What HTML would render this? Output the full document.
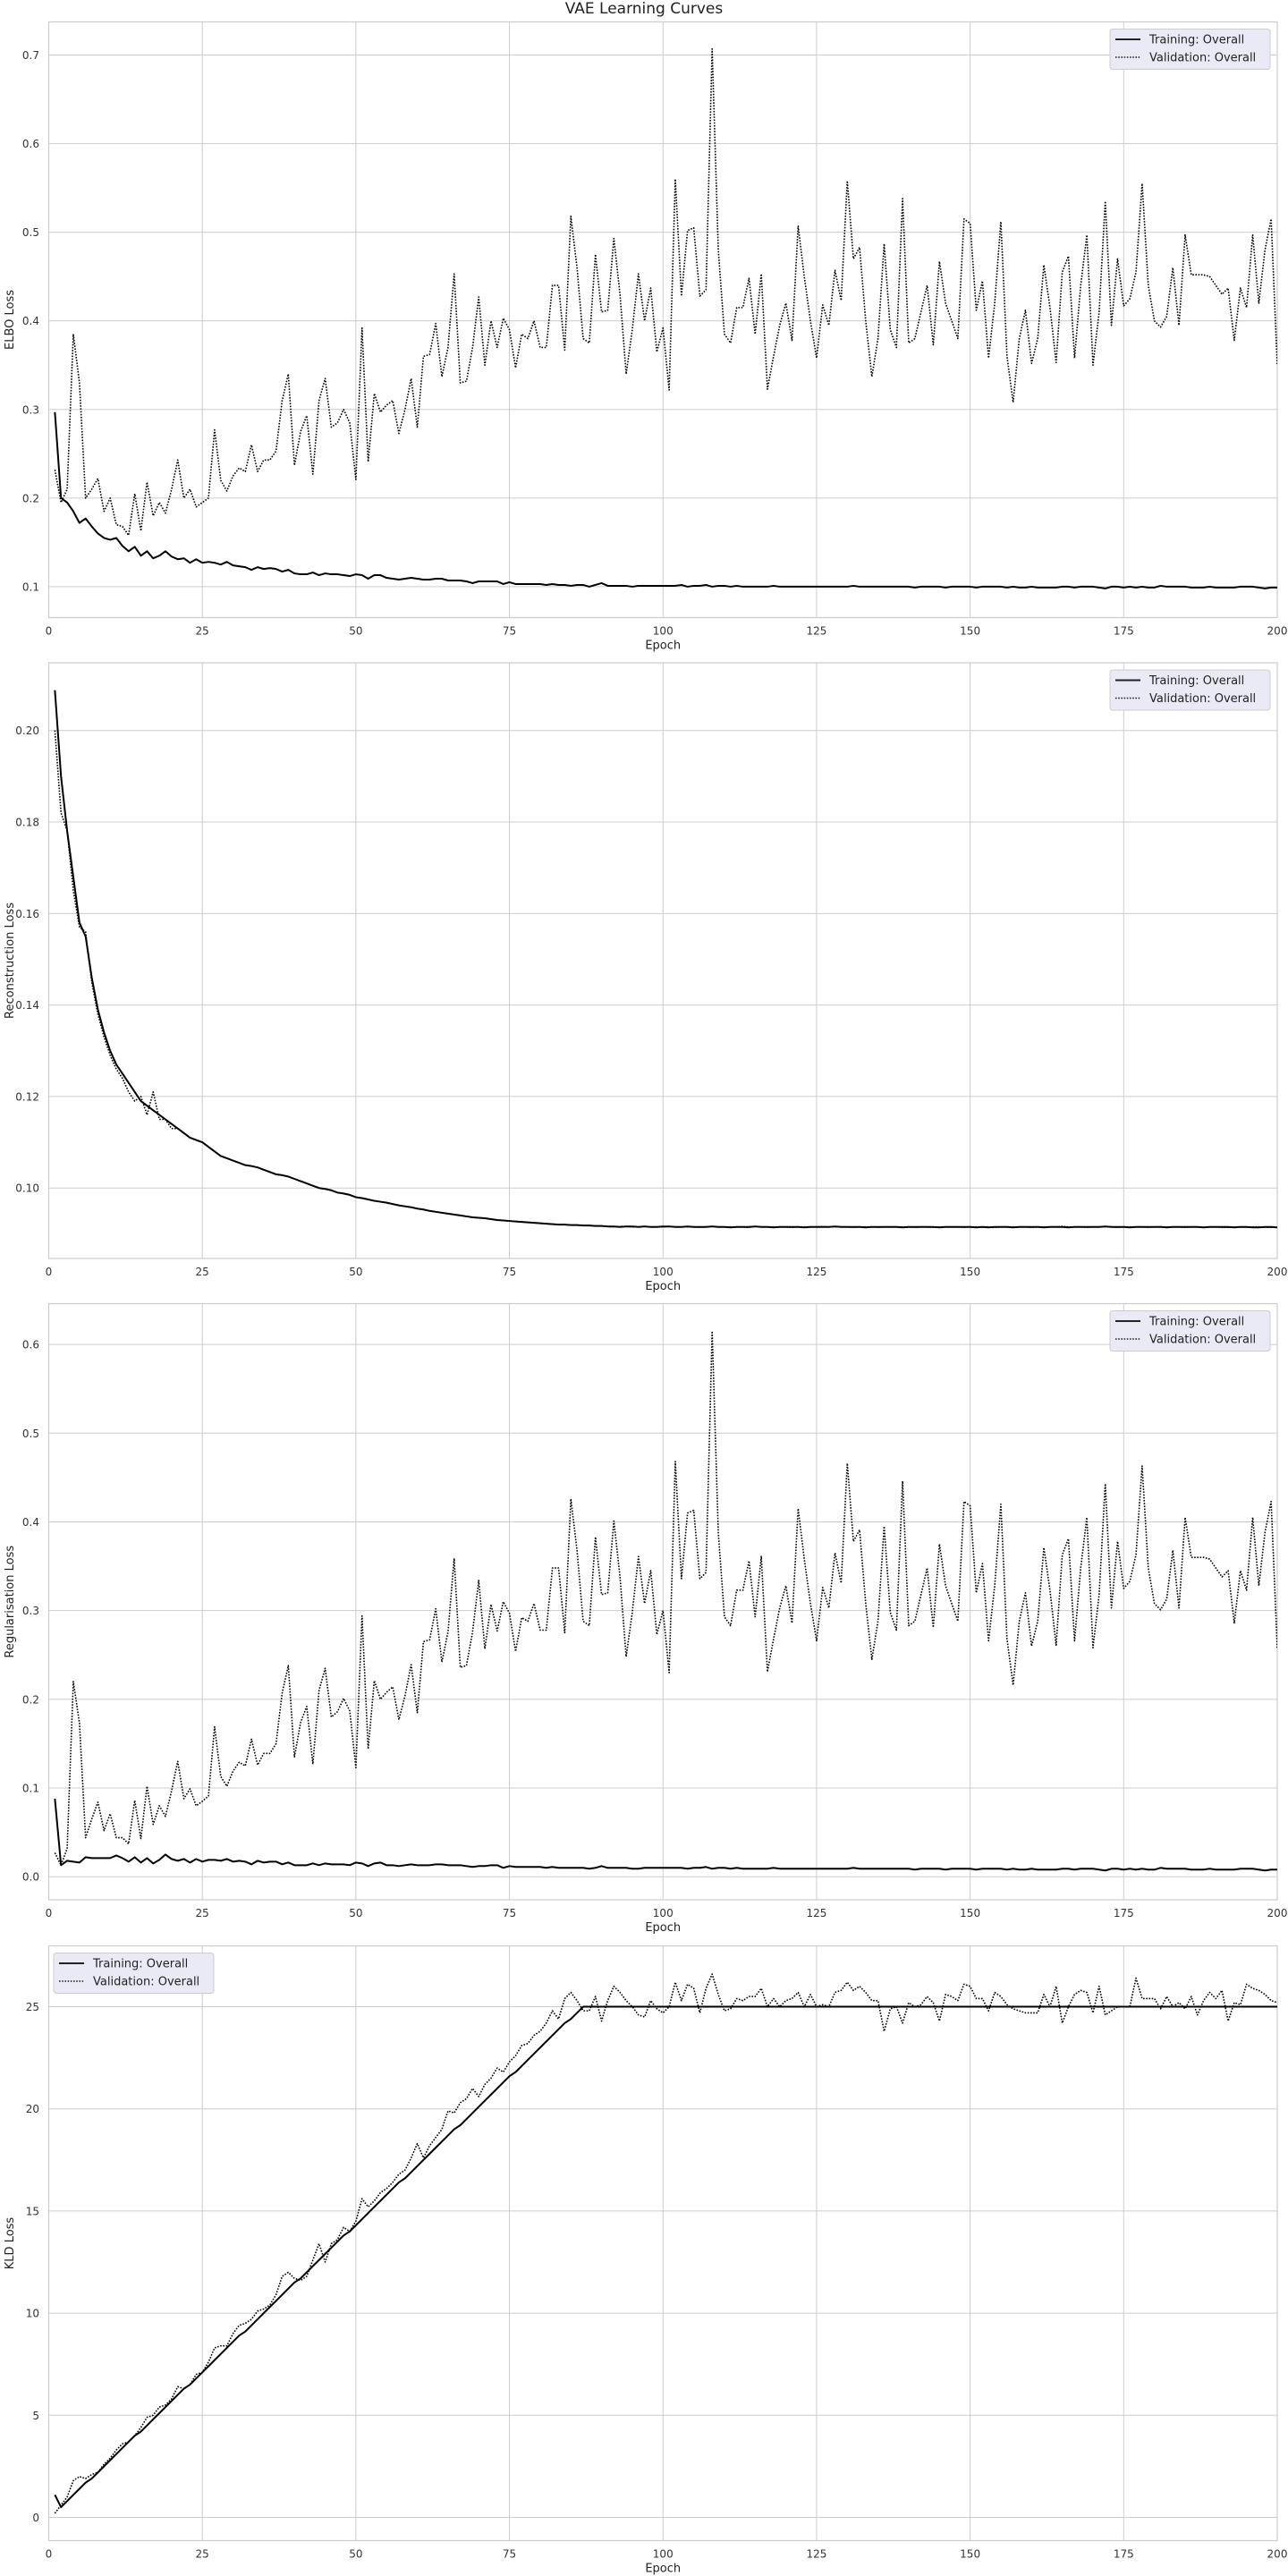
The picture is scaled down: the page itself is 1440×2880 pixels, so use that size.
<!DOCTYPE html>
<html><head><meta charset="utf-8"><title>VAE Learning Curves</title>
<style>
html,body{margin:0;padding:0;background:#fff;}
svg{display:block;font-family:"DejaVu Sans","Liberation Sans",sans-serif;}
</style></head>
<body>
<svg id="chart" width="1440" height="2880" viewBox="0 0 1440 2880" xmlns="http://www.w3.org/2000/svg">
<text x="720" y="15" text-anchor="middle" font-size="17" fill="#222">VAE Learning Curves</text>
</svg>
<script>
const xTicks = [0,25,50,75,100,125,150,175,200];
const elboTicks = [0.1,0.2,0.3,0.4,0.5,0.6,0.7];
const reconTicks = [0.10,0.12,0.14,0.16,0.18,0.20];
const regTicks = [0.0,0.1,0.2,0.3,0.4,0.5,0.6];
const kldTicks = [0,5,10,15,20,25];

const trainElbo = [0.297,0.200,0.195,0.185,0.172,0.177,0.168,0.160,0.155,0.153,0.155,0.146,0.140,0.145,0.135,0.140,0.132,0.135,0.140,0.134,0.131,0.132,0.127,0.131,0.127,0.128,0.127,0.125,0.128,0.124,0.123,0.122,0.119,0.122,0.120,0.121,0.120,0.117,0.119,0.115,0.114,0.114,0.116,0.113,0.115,0.114,0.114,0.113,0.112,0.114,0.113,0.109,0.113,0.113,0.110,0.109,0.108,0.109,0.110,0.109,0.108,0.108,0.109,0.109,0.107,0.107,0.107,0.106,0.104,0.106,0.106,0.106,0.106,0.103,0.105,0.103,0.103,0.103,0.103,0.103,0.102,0.103,0.102,0.102,0.101,0.102,0.102,0.100,0.102,0.104,0.101,0.101,0.101,0.101,0.100,0.101,0.101,0.101,0.101,0.101,0.101,0.101,0.102,0.100,0.101,0.101,0.102,0.100,0.101,0.101,0.100,0.101,0.100,0.100,0.100,0.100,0.100,0.101,0.100,0.100,0.100,0.100,0.100,0.100,0.100,0.100,0.100,0.100,0.100,0.100,0.101,0.100,0.100,0.100,0.100,0.100,0.100,0.100,0.100,0.100,0.099,0.100,0.100,0.100,0.100,0.099,0.100,0.100,0.100,0.100,0.099,0.100,0.100,0.100,0.100,0.099,0.100,0.099,0.099,0.100,0.099,0.099,0.099,0.099,0.100,0.100,0.099,0.100,0.100,0.100,0.099,0.098,0.100,0.100,0.099,0.100,0.099,0.100,0.099,0.099,0.101,0.100,0.100,0.100,0.100,0.099,0.099,0.099,0.100,0.099,0.099,0.099,0.099,0.100,0.100,0.100,0.099,0.098,0.099,0.099,0.099,0.099,0.099];
const valElbo = [0.232,0.195,0.210,0.385,0.330,0.200,0.210,0.222,0.185,0.200,0.170,0.168,0.158,0.205,0.163,0.218,0.180,0.195,0.183,0.210,0.243,0.200,0.210,0.190,0.195,0.200,0.277,0.220,0.208,0.225,0.234,0.230,0.260,0.230,0.243,0.243,0.253,0.310,0.340,0.237,0.275,0.293,0.227,0.310,0.335,0.280,0.285,0.300,0.285,0.221,0.392,0.241,0.318,0.297,0.305,0.310,0.273,0.300,0.335,0.280,0.360,0.362,0.397,0.337,0.370,0.453,0.330,0.332,0.370,0.427,0.350,0.400,0.370,0.403,0.390,0.347,0.385,0.380,0.400,0.370,0.370,0.440,0.440,0.367,0.518,0.460,0.380,0.375,0.475,0.410,0.412,0.493,0.430,0.340,0.390,0.453,0.400,0.437,0.365,0.392,0.322,0.560,0.428,0.502,0.505,0.428,0.435,0.707,0.480,0.385,0.375,0.415,0.415,0.448,0.385,0.453,0.323,0.360,0.395,0.420,0.378,0.507,0.450,0.400,0.358,0.418,0.395,0.457,0.423,0.558,0.470,0.483,0.400,0.337,0.380,0.487,0.390,0.370,0.538,0.375,0.380,0.410,0.440,0.373,0.467,0.420,0.400,0.380,0.515,0.510,0.412,0.445,0.358,0.420,0.512,0.360,0.308,0.380,0.412,0.352,0.380,0.463,0.415,0.353,0.455,0.473,0.358,0.440,0.497,0.350,0.410,0.535,0.395,0.470,0.417,0.425,0.455,0.555,0.440,0.400,0.393,0.405,0.460,0.395,0.497,0.452,0.452,0.452,0.450,0.440,0.430,0.437,0.378,0.437,0.415,0.497,0.420,0.480,0.515,0.350];

const trainRecon = [0.2088,0.190,0.178,0.168,0.158,0.155,0.146,0.139,0.134,0.130,0.127,0.125,0.123,0.121,0.119,0.118,0.117,0.116,0.115,0.114,0.113,0.112,0.111,0.1105,0.110,0.109,0.108,0.107,0.1065,0.106,0.1055,0.105,0.1048,0.1045,0.104,0.1035,0.103,0.1028,0.1025,0.102,0.1015,0.101,0.1005,0.100,0.0998,0.0995,0.099,0.0988,0.0985,0.098,0.0978,0.0975,0.0972,0.097,0.0968,0.0965,0.0962,0.096,0.0958,0.0955,0.0953,0.095,0.0948,0.0946,0.0944,0.0942,0.094,0.0938,0.0936,0.0935,0.0934,0.0932,0.093,0.0929,0.0928,0.0927,0.0926,0.0925,0.0924,0.0923,0.0922,0.0921,0.092,0.092,0.0919,0.0919,0.0918,0.0918,0.0917,0.0917,0.0916,0.0916,0.0915,0.0916,0.0916,0.0915,0.0916,0.0915,0.0915,0.0916,0.0916,0.0915,0.0915,0.0916,0.0915,0.0915,0.0915,0.0916,0.0915,0.0915,0.0914,0.0915,0.0915,0.0915,0.0916,0.0915,0.0915,0.0914,0.0915,0.0915,0.0915,0.0915,0.0914,0.0915,0.0915,0.0915,0.0915,0.0916,0.0915,0.0915,0.0915,0.0915,0.0914,0.0915,0.0915,0.0915,0.0915,0.0915,0.0914,0.0915,0.0915,0.0915,0.0915,0.0915,0.0914,0.0915,0.0915,0.0915,0.0915,0.0915,0.0914,0.0915,0.0914,0.0915,0.0915,0.0915,0.0914,0.0915,0.0915,0.0915,0.0915,0.0914,0.0915,0.0915,0.0915,0.0914,0.0915,0.0915,0.0915,0.0915,0.0915,0.0916,0.0915,0.0915,0.0915,0.0914,0.0915,0.0915,0.0915,0.0915,0.0915,0.0914,0.0915,0.0915,0.0915,0.0915,0.0915,0.0914,0.0915,0.0915,0.0915,0.0915,0.0914,0.0915,0.0915,0.0914,0.0914,0.0915,0.0915,0.0914,0.0915,0.0915,0.0914];
const valRecon = [0.200,0.182,0.178,0.165,0.157,0.156,0.145,0.138,0.133,0.129,0.126,0.124,0.121,0.119,0.120,0.116,0.121,0.115,0.115,0.113,0.113,0.112,0.111,0.1105,0.110,0.109,0.108,0.107,0.1065,0.106,0.1055,0.105,0.1048,0.1045,0.104,0.1035,0.103,0.1028,0.1025,0.102,0.1015,0.101,0.1005,0.100,0.0998,0.0995,0.099,0.0988,0.0985,0.098,0.0978,0.0975,0.0972,0.097,0.0968,0.0965,0.0962,0.096,0.0958,0.0955,0.0953,0.095,0.0948,0.0946,0.0944,0.0942,0.094,0.0938,0.0936,0.0935,0.0934,0.0932,0.093,0.0929,0.0928,0.0927,0.0926,0.0925,0.0924,0.0923,0.0922,0.0921,0.092,0.092,0.0919,0.0919,0.0918,0.0918,0.0917,0.0917,0.0916,0.0915,0.0916,0.0916,0.0915,0.0915,0.0916,0.0915,0.0915,0.0915,0.0916,0.0915,0.0915,0.0915,0.0915,0.0914,0.0915,0.0916,0.0915,0.0915,0.0915,0.0915,0.0915,0.0914,0.0916,0.0915,0.0915,0.0915,0.0915,0.0915,0.0914,0.0915,0.0915,0.0915,0.0915,0.0916,0.0915,0.0915,0.0915,0.0915,0.0914,0.0915,0.0915,0.0915,0.0914,0.0915,0.0915,0.0915,0.0915,0.0915,0.0914,0.0915,0.0915,0.0914,0.0915,0.0915,0.0915,0.0915,0.0914,0.0915,0.0915,0.0915,0.0915,0.0914,0.0915,0.0915,0.0915,0.0915,0.0915,0.0914,0.0915,0.0915,0.0915,0.0915,0.0916,0.0915,0.0915,0.0915,0.0914,0.0915,0.0915,0.0915,0.0915,0.0914,0.0915,0.0915,0.0915,0.0915,0.0914,0.0915,0.0915,0.0915,0.0915,0.0915,0.0914,0.0915,0.0915,0.0914,0.0915,0.0915,0.0914,0.0914,0.0915,0.0915,0.0914,0.0915,0.0915,0.0914,0.0914];

const trainReg = [0.088,0.013,0.018,0.017,0.016,0.022,0.021,0.021,0.021,0.021,0.024,0.021,0.017,0.022,0.016,0.021,0.015,0.019,0.025,0.020,0.018,0.020,0.016,0.020,0.017,0.019,0.019,0.018,0.020,0.017,0.018,0.017,0.014,0.018,0.016,0.017,0.017,0.014,0.016,0.013,0.013,0.013,0.015,0.013,0.015,0.014,0.014,0.014,0.013,0.016,0.015,0.012,0.015,0.016,0.013,0.013,0.012,0.013,0.014,0.013,0.013,0.013,0.014,0.014,0.013,0.013,0.013,0.012,0.011,0.012,0.012,0.013,0.013,0.010,0.012,0.011,0.011,0.011,0.011,0.011,0.010,0.011,0.010,0.010,0.010,0.010,0.010,0.009,0.010,0.012,0.010,0.010,0.010,0.010,0.009,0.009,0.010,0.010,0.010,0.010,0.010,0.010,0.010,0.009,0.010,0.010,0.011,0.009,0.010,0.010,0.009,0.010,0.009,0.009,0.009,0.009,0.009,0.010,0.009,0.009,0.009,0.009,0.009,0.009,0.009,0.009,0.009,0.009,0.009,0.009,0.010,0.009,0.009,0.009,0.009,0.009,0.009,0.009,0.009,0.009,0.008,0.009,0.009,0.009,0.009,0.008,0.009,0.009,0.009,0.009,0.008,0.009,0.009,0.009,0.009,0.008,0.009,0.008,0.008,0.009,0.008,0.008,0.008,0.008,0.009,0.009,0.008,0.009,0.009,0.009,0.008,0.007,0.009,0.009,0.008,0.009,0.008,0.009,0.008,0.008,0.010,0.009,0.009,0.009,0.009,0.008,0.008,0.008,0.009,0.008,0.008,0.008,0.008,0.009,0.009,0.009,0.008,0.007,0.008,0.008,0.008,0.008,0.008];
const valReg = [0.027,0.013,0.032,0.220,0.173,0.044,0.065,0.084,0.052,0.071,0.044,0.044,0.037,0.086,0.043,0.102,0.059,0.080,0.068,0.097,0.130,0.088,0.099,0.080,0.085,0.091,0.169,0.113,0.102,0.119,0.129,0.125,0.155,0.126,0.139,0.139,0.150,0.207,0.238,0.135,0.174,0.192,0.127,0.210,0.235,0.180,0.186,0.201,0.187,0.123,0.294,0.144,0.221,0.200,0.208,0.214,0.177,0.204,0.239,0.185,0.265,0.267,0.302,0.242,0.276,0.359,0.236,0.238,0.276,0.334,0.257,0.307,0.277,0.310,0.297,0.254,0.292,0.288,0.308,0.278,0.278,0.348,0.348,0.275,0.426,0.368,0.288,0.283,0.383,0.318,0.320,0.401,0.338,0.248,0.298,0.361,0.308,0.345,0.273,0.300,0.230,0.468,0.336,0.410,0.413,0.336,0.343,0.615,0.388,0.293,0.283,0.323,0.323,0.356,0.293,0.361,0.231,0.268,0.303,0.328,0.286,0.415,0.358,0.308,0.266,0.326,0.303,0.365,0.331,0.466,0.378,0.391,0.308,0.245,0.288,0.395,0.298,0.278,0.446,0.283,0.288,0.318,0.348,0.281,0.375,0.328,0.308,0.288,0.423,0.418,0.320,0.353,0.266,0.328,0.420,0.268,0.216,0.288,0.320,0.260,0.288,0.371,0.323,0.261,0.363,0.381,0.266,0.348,0.405,0.258,0.318,0.443,0.303,0.378,0.325,0.333,0.363,0.463,0.348,0.308,0.301,0.313,0.368,0.303,0.405,0.360,0.360,0.360,0.358,0.348,0.338,0.345,0.286,0.345,0.323,0.405,0.328,0.388,0.423,0.258];

const trainKld = [1.1,0.5,0.8,1.1,1.4,1.7,1.9,2.2,2.5,2.8,3.1,3.4,3.7,4.0,4.2,4.5,4.8,5.1,5.4,5.7,6.0,6.3,6.5,6.8,7.1,7.4,7.7,8.0,8.3,8.6,8.9,9.1,9.4,9.7,10.0,10.3,10.6,10.9,11.2,11.5,11.7,12.0,12.3,12.6,12.9,13.2,13.5,13.8,14.0,14.3,14.6,14.9,15.2,15.5,15.8,16.1,16.4,16.6,16.9,17.2,17.5,17.8,18.1,18.4,18.7,19.0,19.2,19.5,19.8,20.1,20.4,20.7,21.0,21.3,21.6,21.8,22.1,22.4,22.7,23.0,23.3,23.6,23.9,24.2,24.4,24.7,25.0,25.0,25.0,25.0,25.0,25.0,25.0,25.0,25.0,25.0,25.0,25.0,25.0,25.0,25.0,25.0,25.0,25.0,25.0,25.0,25.0,25.0,25.0,25.0,25.0,25.0,25.0,25.0,25.0,25.0,25.0,25.0,25.0,25.0,25.0,25.0,25.0,25.0,25.0,25.0,25.0,25.0,25.0,25.0,25.0,25.0,25.0,25.0,25.0,25.0,25.0,25.0,25.0,25.0,25.0,25.0,25.0,25.0,25.0,25.0,25.0,25.0,25.0,25.0,25.0,25.0,25.0,25.0,25.0,25.0,25.0,25.0,25.0,25.0,25.0,25.0,25.0,25.0,25.0,25.0,25.0,25.0,25.0,25.0,25.0,25.0,25.0,25.0,25.0,25.0,25.0,25.0,25.0,25.0,25.0,25.0,25.0,25.0,25.0,25.0,25.0,25.0,25.0,25.0,25.0,25.0,25.0,25.0,25.0,25.0,25.0,25.0,25.0,25.0];
const valKld = [0.2,0.6,1.0,1.8,2.0,1.9,2.1,2.2,2.6,2.9,3.3,3.6,3.7,4.0,4.4,4.9,5.0,5.4,5.5,5.8,6.4,6.3,6.5,7.0,7.1,7.6,8.3,8.4,8.4,9.0,9.4,9.5,9.7,10.1,10.2,10.4,10.9,11.8,12.0,11.7,11.6,11.8,12.6,13.4,12.5,13.4,13.6,14.2,14.0,14.5,15.6,15.2,15.5,15.9,16.1,16.4,16.8,17.0,17.6,18.3,17.6,18.2,18.6,19.0,19.9,19.8,20.3,20.5,21.0,20.6,21.2,21.5,22.0,21.8,22.3,22.6,23.1,23.2,23.6,23.8,24.2,24.8,24.4,25.4,25.7,25.3,24.8,24.8,25.5,24.3,25.3,26.0,25.7,25.3,25.0,24.6,24.5,25.3,24.9,24.7,25.0,26.2,25.3,26.1,25.9,24.7,25.9,26.6,25.6,24.8,24.9,25.4,25.3,25.5,25.5,25.9,25.0,25.4,25.0,25.3,25.4,25.7,25.0,25.6,25.0,25.1,25.0,25.7,25.8,26.2,25.8,26.0,25.7,25.3,25.3,23.8,24.9,25.0,24.2,25.2,25.0,25.1,25.5,25.2,24.3,25.6,25.5,25.3,26.1,26.0,25.4,25.4,24.8,25.7,25.5,25.1,24.9,24.8,24.7,24.7,24.7,25.6,25.0,26.0,24.2,25.0,25.6,25.8,25.7,24.7,26.0,24.6,24.8,25.0,25.0,25.0,26.4,25.4,25.4,25.4,24.9,25.5,25.0,25.2,24.9,25.5,24.6,25.3,25.7,25.4,25.8,24.3,25.2,25.1,26.1,25.9,25.8,25.6,25.3,25.2];

const NS = "http://www.w3.org/2000/svg";
const svg = document.getElementById('chart');
const X0 = 54.5, X1 = 1428, XMIN = 0, XMAX = 200;
function xScale(e){ return X0 + (e - XMIN) / (XMAX - XMIN) * (X1 - X0); }
function mk(tag, attrs, parent){
  const el = document.createElementNS(NS, tag);
  for (const k in attrs) el.setAttribute(k, attrs[k]);
  (parent || svg).appendChild(el);
  return el;
}
function drawPanel(p){
  const g = mk('g', {});
  
  
  const yScale = v => p.bottom - (v - p.ymin) / (p.ymax - p.ymin) * (p.bottom - p.top);
  // grid x
  xTicks.forEach(t => {
    const l = mk('line', {x1: xScale(t), x2: xScale(t), y1: p.top, y2: p.bottom, stroke: '#cccccc', 'stroke-width': 1}, g);
    
    
    const tx = mk('text', {x: xScale(t), y: p.bottom + 19, 'text-anchor': 'middle', 'font-size': 12, fill: '#333'}, g);
    
    
    tx.textContent = String(t);
  });
  p.ticks.forEach(t => {
    const y = yScale(t);
    const l = mk('line', {x1: X0, x2: X1, y1: y, y2: y, stroke: '#cccccc', 'stroke-width': 1}, g);
    
    
    const tx = mk('text', {x: 44, y: y + 4.5, 'text-anchor': 'end', 'font-size': 12, fill: '#333'}, g);
    
    
    tx.textContent = t.toFixed(p.dec);
  });
  const fr = mk('rect', {x: X0, y: p.top, width: X1 - X0, height: p.bottom - p.top, fill: 'none', stroke: '#cccccc', 'stroke-width': 1.2}, g);
  
  
  const xl = mk('text', {x: (X0 + X1) / 2, y: p.bottom + 35, 'text-anchor': 'middle', 'font-size': 13, fill: '#222'}, g);
  
  
  xl.textContent = 'Epoch';
  const cy = (p.top + p.bottom) / 2;
  const yl = mk('text', {x: 15, y: cy, 'text-anchor': 'middle', 'font-size': 13, fill: '#222', transform: 'rotate(-90 15 ' + cy + ')'}, g);
  
  
  yl.textContent = p.label;
  const clipId = 'clip-' + p.name;
  const cp = mk('clipPath', {id: clipId}, g);
  mk('rect', {x: X0, y: p.top, width: X1 - X0, height: p.bottom - p.top}, cp);
  function series(arr, dashed, nm){
    let d = '';
    arr.forEach((v, i) => { d += (i ? 'L' : 'M') + xScale(i + 1).toFixed(2) + ',' + yScale(v).toFixed(2); });
    const path = mk('path', {d: d, fill: 'none', stroke: '#000', 'stroke-width': dashed ? 1.6 : 2, 'stroke-dasharray': dashed ? '1.6 1.6' : 'none', 'stroke-linejoin': 'round', 'clip-path': 'url(#' + clipId + ')'}, g);
    
    
  }
  series(p.train, false, 'training-line');
  series(p.val, true, 'validation-line');
  // legend
  const lx = p.legendLeft ? 60 : 1241, ly = p.top + 8;
  const lg = mk('g', {}, g);
  
  
  mk('rect', {x: lx, y: ly, width: 179, height: 45, rx: 3, fill: '#eaeaf6', stroke: '#cccccc', 'stroke-width': 1}, lg);
  mk('line', {x1: lx + 6, x2: lx + 34, y1: ly + 11.5, y2: ly + 11.5, stroke: '#222', 'stroke-width': 2}, lg);
  mk('line', {x1: lx + 6, x2: lx + 34, y1: ly + 31.5, y2: ly + 31.5, stroke: '#222', 'stroke-width': 1.6, 'stroke-dasharray': '1.6 1.6'}, lg);
  const t1 = mk('text', {x: lx + 44, y: ly + 16, 'font-size': 13, fill: '#222'}, lg);
  
  
  t1.textContent = 'Training: Overall';
  const t2 = mk('text', {x: lx + 44, y: ly + 36, 'font-size': 13, fill: '#222'}, lg);
  
  
  t2.textContent = 'Validation: Overall';
}
drawPanel({name: 'elbo', top: 24.5, bottom: 690.5, ymin: 0.0651, ymax: 0.7374, ticks: elboTicks, dec: 1, label: 'ELBO Loss', train: trainElbo, val: valElbo, legendLeft: false});
drawPanel({name: 'reconstruction', top: 741, bottom: 1407, ymin: 0.0846, ymax: 0.2148, ticks: reconTicks, dec: 2, label: 'Reconstruction Loss', train: trainRecon, val: valRecon, legendLeft: false});
drawPanel({name: 'regularisation', top: 1457.5, bottom: 2124, ymin: -0.026, ymax: 0.646, ticks: regTicks, dec: 1, label: 'Regularisation Loss', train: trainReg, val: valReg, legendLeft: false});
drawPanel({name: 'kld', top: 2175.5, bottom: 2840.5, ymin: -1.14, ymax: 27.98, ticks: kldTicks, dec: 0, label: 'KLD Loss', train: trainKld, val: valKld, legendLeft: true});
</script>
</body></html>
